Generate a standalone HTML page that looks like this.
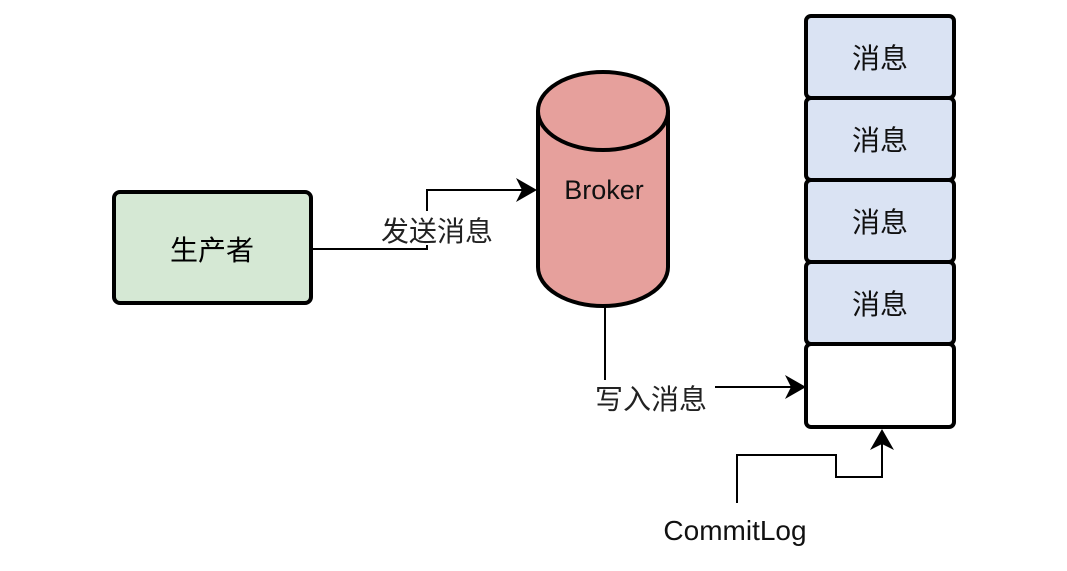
<!DOCTYPE html>
<html><head><meta charset="utf-8"><style>
body{margin:0;background:#fff;}
svg text{font-family:"Liberation Sans","Noto Sans CJK SC",sans-serif;}
</style></head><body>
<svg width="1067" height="566" viewBox="0 0 1067 566" xmlns="http://www.w3.org/2000/svg">
<rect x="114" y="192" width="197" height="111" rx="6" fill="#d5e8d4" stroke="#000" stroke-width="4"/>
<text x="212" y="260" font-size="28" text-anchor="middle">生产者</text>
<path d="M311,249 H427 V190 H525" fill="none" stroke="#000" stroke-width="2"/>
<path d="M537,190 L516,178 L522,190 L516,202 Z" fill="#000"/>
<rect x="376" y="211" width="124" height="34" fill="#fff"/>
<text x="437" y="241" font-size="28" text-anchor="middle" fill="#222">发送消息</text>
<path d="M538,111 V267 A65,39 0 0 0 668,267 V111" fill="#e6a09c" stroke="#000" stroke-width="4"/>
<ellipse cx="603" cy="111" rx="65" ry="39" fill="#e6a09c" stroke="#000" stroke-width="4"/>
<text x="604" y="199" font-size="27" text-anchor="middle" fill="#111">Broker</text>
<path d="M605,306 V380" fill="none" stroke="#000" stroke-width="2"/>
<text x="651" y="409" font-size="28" text-anchor="middle" fill="#222">写入消息</text>
<path d="M715,387 H795" fill="none" stroke="#000" stroke-width="2"/>
<path d="M806,387 L785,375 L791,387 L785,399 Z" fill="#000"/>
<g stroke="#000" stroke-width="4">
<rect x="806" y="16" width="148" height="82" rx="5" fill="#dae3f3"/>
<rect x="806" y="98" width="148" height="82" rx="5" fill="#dae3f3"/>
<rect x="806" y="180" width="148" height="82" rx="5" fill="#dae3f3"/>
<rect x="806" y="262" width="148" height="82" rx="5" fill="#dae3f3"/>
<rect x="806" y="344" width="148" height="83" rx="5" fill="#fff"/>
</g>
<g font-size="28" text-anchor="middle" fill="#111">
<text x="880" y="68">消息</text><text x="880" y="150">消息</text><text x="880" y="232">消息</text><text x="880" y="314">消息</text>
</g>
<path d="M737,503 V455 H836 V477 H882 V440" fill="none" stroke="#000" stroke-width="2"/>
<path d="M882,429 L870,450 L882,444 L894,450 Z" fill="#000"/>
<text x="735" y="540" font-size="28" text-anchor="middle" fill="#111">CommitLog</text>
</svg>
</body></html>
